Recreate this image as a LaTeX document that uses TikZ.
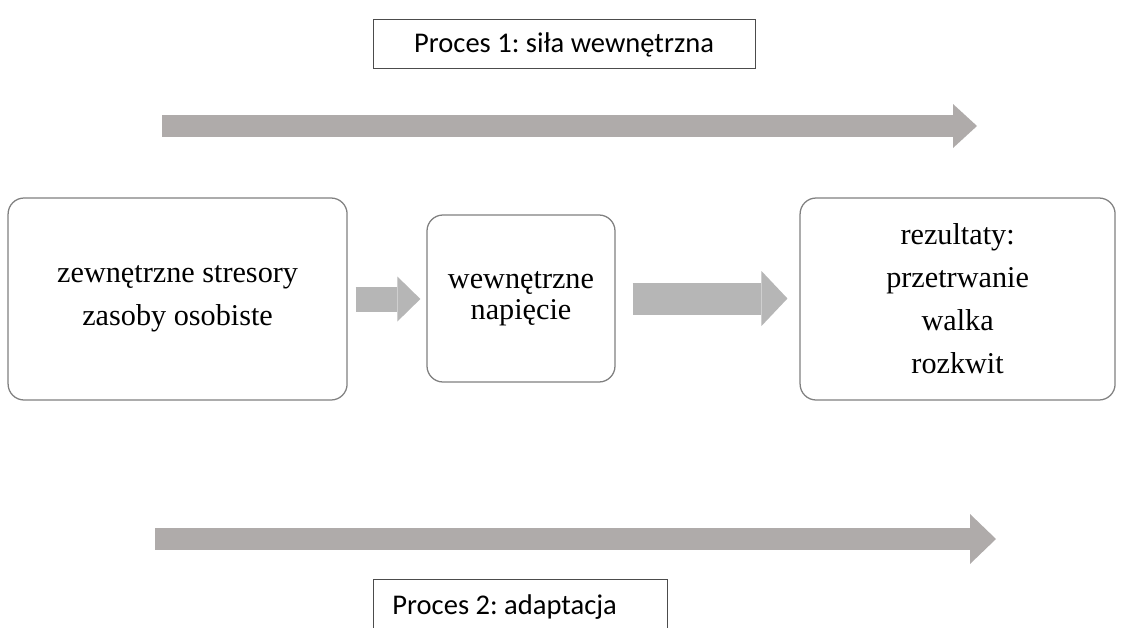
\documentclass[tikz,border=0pt]{standalone}
\usepackage{fontspec}
\setmainfont{Liberation Serif}
\newfontfamily\labelfont{Carlito}
\usetikzlibrary{arrows.meta}
\frenchspacing

\definecolor{procgray}{RGB}{175,171,170}
\definecolor{blockgray}{RGB}{182,182,182}
\definecolor{boxline}{RGB}{128,128,128}

\tikzset{
	stagebox/.style={draw=boxline,line width=0.9pt,rounded corners=0.4cm,fill=white,align=center,inner sep=0pt,font=\fontsize{21.5}{30.6}\selectfont},
	labelbox/.style={draw=black!70,line width=0.6pt,fill=white,inner sep=0pt,font=\labelfont\fontsize{20.3}{24}\selectfont},
	procarrow/.style={draw=procgray,line width=0.55cm},
	blockarrow/.style={draw=blockgray,line width=0.625cm}
}

\begin{document}
\begin{tikzpicture}
		\clip (0,0) rectangle (28.1,-15.7);
		
		\node[labelbox,minimum width=9.55cm,minimum height=1.225cm] (proc1) at (14.1,-1.11) {Proces 1: siła wewnętrzna};
		
		\coordinate (p1a) at (4.05,-3.15);
		\coordinate (p1b) at (24.425,-3.15);
		\draw[procarrow,-{Triangle[length=0.6cm,width=1.1cm,line width=0pt]}] (p1a) -- (p1b);
		
		\node[stagebox,minimum width=8.475cm,minimum height=5.05cm] (stres) at (4.44,-7.475) {zewnętrzne stresory\\zasoby osobiste};
		\node[stagebox,minimum width=4.7cm,minimum height=4.175cm,font=\fontsize{21.5}{22}\selectfont] (napiecie) at (13.025,-7.4625) {wewnętrzne\\napięcie};
		\node[stagebox,minimum width=7.875cm,minimum height=5.05cm] (wynik) at (23.94,-7.475) {rezultaty:\\przetrwanie\\walka\\rozkwit};
		
		\draw[blockarrow,shorten <=0.2cm,shorten >=0.15cm,-{Triangle[length=0.575cm,width=1.125cm,line width=0pt]}] (stres.east) -- (stres.east -| napiecie.west);
		\draw[blockarrow,line width=0.8cm,shorten <=0.425cm,shorten >=0.3cm,-{Triangle[length=0.65cm,width=1.375cm,line width=0pt]}] (napiecie.east) -- (napiecie.east -| wynik.west);
		
		\coordinate (p2a) at (3.875,-13.475);
		\coordinate (p2b) at (24.9,-13.475);
		\draw[procarrow,-{Triangle[length=0.65cm,width=1.25cm,line width=0pt]}] (p2a) -- (p2b);
		
		\node[labelbox,anchor=north west,minimum height=1.4cm,inner xsep=0.475cm,text width=6.4cm,align=flush left] (proc2) at (9.325,-14.475) {Proces 2: adaptacja};
		
\end{tikzpicture}
\end{document}
